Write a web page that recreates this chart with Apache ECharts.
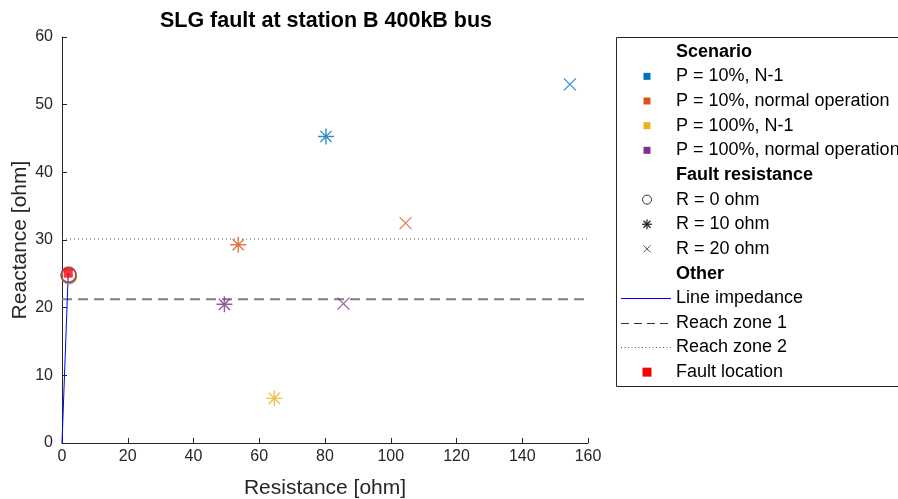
<!DOCTYPE html>
<html>
<head>
<meta charset="utf-8">
<script src="https://cdn.jsdelivr.net/npm/echarts@6/dist/echarts.min.js"></script>
<style>
  html, body { margin: 0; padding: 0; background: #fff; }
  #chart { width: 898px; height: 499px; }
</style>
</head>
<body>
<div id="chart"></div>
<script>
// ---- Data ----
const chartTitle = 'SLG fault at station B 400kB bus';
const xName = 'Resistance [ohm]';
const yName = 'Reactance [ohm]';
const xMin = 0, xMax = 160, xStep = 20;
const yMin = 0, yMax = 60, yStep = 10;

const scenarios = ['P = 10%, N-1', 'P = 10%, normal operation', 'P = 100%, N-1', 'P = 100%, normal operation'];
const scenarioColors = ['#0072BD', '#D95319', '#EDB120', '#7E2F8E'];
const resistanceLabels = ['R = 0 ohm', 'R = 10 ohm', 'R = 20 ohm'];
const otherLabels = ['Line impedance', 'Reach zone 1', 'Reach zone 2', 'Fault location'];
const legendHeadings = ['Scenario', 'Fault resistance', 'Other'];

// Apparent impedance [R, X] per scenario (same order as scenarios)
const pointsR0 = [[2.1, 24.7], [2.0, 24.9], [2.2, 24.6], [2.0, 24.8]];
const pointsR10 = [[80.3, 45.3], [53.6, 29.3], [64.6, 6.6], [49.4, 20.5]];
const pointsR20 = [[154.5, 53.0], [104.5, 32.5], null, [85.6, 20.6]];

const lineImpedance = [[0, 0], [1.9, 25.1]];
const faultLocation = [[1.9, 25.1]];
const reachZone1 = 21.25;
const reachZone2 = 30.15;

// ---- Marker shapes ----
const asteriskPath = 'path://M10,0L10,20M0,10L20,10M3,3L17,17M3,17L17,3';
const crossPath = 'path://M0,0L20,20M0,20L20,0';

const chart = echarts.init(document.getElementById('chart'));

const series = [];
series.push({
  name: otherLabels[0], type: 'line', data: lineImpedance, symbol: 'none', silent: true,
  lineStyle: { color: '#0000FF', width: 1 }, z: 2
});
series.push({
  name: otherLabels[1], type: 'line', data: [[xMin, reachZone1], [xMax, reachZone1]], symbol: 'none', silent: true,
  lineStyle: { color: '#808080', width: 2, type: [10, 6] }, z: 1
});
series.push({
  name: otherLabels[2], type: 'line', data: [[xMin, reachZone2], [xMax, reachZone2]], symbol: 'none', silent: true,
  lineStyle: { color: '#555555', width: 1, type: [1, 3] }, z: 1
});

const markerSets = [
  { pts: pointsR0, symbol: 'circle', size: 15, width: 1.3 },
  { pts: pointsR10, symbol: asteriskPath, size: 16, width: 1.4 },
  { pts: pointsR20, symbol: crossPath, size: 12, width: 1.2 }
];
markerSets.forEach((m, ri) => {
  m.pts.forEach((p, si) => {
    if (!p) return;
    series.push({
      name: scenarios[si] + ' / ' + resistanceLabels[ri],
      type: 'scatter', data: [p], symbol: m.symbol, symbolSize: m.size, silent: true,
      itemStyle: { color: 'transparent', borderColor: scenarioColors[si], borderWidth: m.width, opacity: 0.8 },
      z: 3
    });
  });
});

series.push({
  name: otherLabels[3], type: 'scatter', data: faultLocation, symbol: 'rect', symbolSize: 9, silent: true,
  itemStyle: { color: '#FF0000' }, z: 4
});

// ---- Legend (drawn as graphic elements) ----
const legendLeft = 616, legendTop = 37, legendHeight = 349;
const rowTop = 51.7, rowStep = 24.65;
const iconX = 647, textX = 676;
const legendFont = '18px "Liberation Sans", Arial, sans-serif';
const legendBold = 'bold 18px "Liberation Sans", Arial, sans-serif';
const legendEls = [];
legendEls.push({
  type: 'rect', shape: { x: legendLeft + 0.5, y: legendTop + 0.5, width: 320, height: legendHeight },
  style: { fill: '#fff', stroke: '#262626', lineWidth: 1 }
});
let row = 0;
function rowY() { return rowTop + row * rowStep; }
function addText(txt, bold) {
  legendEls.push({
    type: 'text', x: textX, y: rowY(),
    style: { text: txt, font: bold ? legendBold : legendFont, fill: '#000', verticalAlign: 'middle', align: 'left' }
  });
}
function addSeg(x1, y1, x2, y2, stroke, lw) {
  legendEls.push({ type: 'line', shape: { x1: x1, y1: y1, x2: x2, y2: y2 }, style: { stroke: stroke, lineWidth: lw } });
}
// Scenario block
addText(legendHeadings[0], true); row++;
scenarios.forEach((s, i) => {
  legendEls.push({ type: 'rect', shape: { x: iconX - 3.5, y: rowY() - 3.5, width: 7, height: 7 }, style: { fill: scenarioColors[i] } });
  addText(s, false); row++;
});
// Fault resistance block
addText(legendHeadings[1], true); row++;
legendEls.push({ type: 'circle', shape: { cx: iconX, cy: rowY(), r: 4.5 }, style: { fill: 'none', stroke: '#333', lineWidth: 1 } });
addText(resistanceLabels[0], false); row++;
{
  const cy = rowY();
  addSeg(iconX, cy - 5, iconX, cy + 5, '#222', 1.2);
  addSeg(iconX - 5, cy, iconX + 5, cy, '#222', 1.2);
  addSeg(iconX - 3.5, cy - 3.5, iconX + 3.5, cy + 3.5, '#222', 1.2);
  addSeg(iconX - 3.5, cy + 3.5, iconX + 3.5, cy - 3.5, '#222', 1.2);
}
addText(resistanceLabels[1], false); row++;
{
  const cy = rowY();
  addSeg(iconX - 3.5, cy - 3.5, iconX + 3.5, cy + 3.5, '#555', 1);
  addSeg(iconX - 3.5, cy + 3.5, iconX + 3.5, cy - 3.5, '#555', 1);
}
addText(resistanceLabels[2], false); row++;
// Other block
addText(legendHeadings[2], true); row++;
addSeg(621, Math.round(rowY()) + 0.5, 671, Math.round(rowY()) + 0.5, '#0000FF', 1);
addText(otherLabels[0], false); row++;
legendEls.push({ type: 'line', shape: { x1: 621, y1: Math.round(rowY()) + 0.5, x2: 673, y2: Math.round(rowY()) + 0.5 }, style: { stroke: '#333', lineWidth: 1, lineDash: [8, 5] } });
addText(otherLabels[1], false); row++;
legendEls.push({ type: 'line', shape: { x1: 621, y1: Math.round(rowY()) + 0.5, x2: 671, y2: Math.round(rowY()) + 0.5 }, style: { stroke: '#555', lineWidth: 1, lineDash: [1, 2.5] } });
addText(otherLabels[2], false); row++;
legendEls.push({ type: 'rect', shape: { x: iconX - 4.5, y: rowY() - 4.5, width: 9, height: 9 }, style: { fill: '#FF0000' } });
addText(otherLabels[3], false); row++;

const axisText = '#262626';
chart.setOption({
  backgroundColor: '#ffffff',
  animation: false,
  title: {
    text: chartTitle, left: 326, top: 10, textAlign: 'center', padding: 0,
    textStyle: { fontFamily: '"Liberation Sans", Arial, sans-serif', fontWeight: 'bold', fontSize: 21.5, color: '#000' }
  },
  grid: { left: 62, right: 310, top: 37, bottom: 56, containLabel: false, outerBoundsMode: 'none' },
  xAxis: {
    type: 'value', min: xMin, max: xMax, interval: xStep,
    name: xName, nameLocation: 'middle', nameGap: 35, nameMoveOverlap: false,
    nameTextStyle: { fontFamily: '"Liberation Sans", Arial, sans-serif', fontSize: 21, color: axisText },
    axisLine: { show: true, onZero: false, lineStyle: { color: axisText, width: 1 } },
    axisTick: { show: true, inside: true, length: 5, lineStyle: { color: axisText } },
    axisLabel: { margin: 6, fontFamily: '"Liberation Sans", Arial, sans-serif', fontSize: 16, color: axisText },
    splitLine: { show: false }
  },
  yAxis: {
    type: 'value', min: yMin, max: yMax, interval: yStep,
    name: yName, nameLocation: 'middle', nameGap: 31, nameRotate: 90, nameMoveOverlap: false,
    nameTextStyle: { fontFamily: '"Liberation Sans", Arial, sans-serif', fontSize: 21, color: axisText },
    axisLine: { show: true, onZero: false, lineStyle: { color: axisText, width: 1 } },
    axisTick: { show: true, inside: true, length: 5, lineStyle: { color: axisText } },
    axisLabel: { margin: 9, fontFamily: '"Liberation Sans", Arial, sans-serif', fontSize: 16, color: axisText },
    splitLine: { show: false }
  },
  series: series,
  graphic: { elements: legendEls }
});
</script>
</body>
</html>
